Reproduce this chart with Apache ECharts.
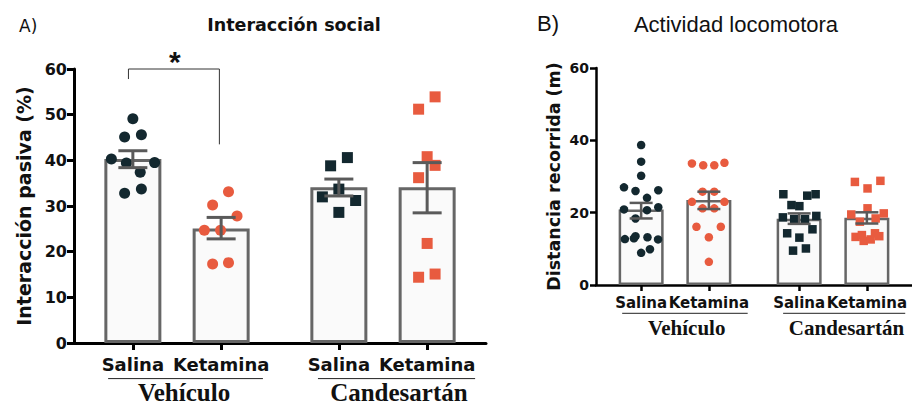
<!DOCTYPE html>
<html><head><meta charset="utf-8">
<script src="https://cdn.jsdelivr.net/npm/echarts@6/dist/echarts.min.js"></script>
<style>html,body{margin:0;padding:0;background:#fff}#c{width:912px;height:408px}</style>
</head><body><div id="c"></div>
<script>
// ---- categories ----
const treatments = ['Salina', 'Ketamina', 'Salina', 'Ketamina'];
const groups = ['Vehículo', 'Candesartán'];
const barPos = [2, 5, 9, 12];           // x slot of each bar (Veh-Sal, Veh-Ket, Cand-Sal, Cand-Ket)
const ticksA = [0, 10, 20, 30, 40, 50, 60];
const ticksB = [0, 20, 40, 60];

// ---- Panel A: Interacción social ----
const socialMean = [40.3, 25.1, 34.1, 34.1];
const socialLow  = [38.4, 22.8, 32.2, 28.5];
const socialHigh = [42.1, 27.5, 35.9, 39.5];
const socialVehSal = [49.1, 45.1, 45.6, 40.3, 39.4, 39.5, 37.4, 32.8, 33.7];
const socialVehSalJit = [0, -0.28, 0.29, -0.73, -0.22, 0.74, 0.25, -0.28, 0.29];
const socialVehKet = [33.1, 30.2, 27.8, 24.7, 24.7, 17.3, 17.6];
const socialVehKetJit = [0.25, -0.29, 0.54, -0.57, -0.02, -0.29, 0.25];
const socialCanSal = [40.6, 38.8, 33.7, 32.0, 31.2, 28.6];
const socialCanSalJit = [0.29, -0.28, 0, -0.56, 0.57, 0];
const socialCanKet = [53.9, 51.2, 40.8, 38.9, 36.2, 21.8, 14.4, 15.1];
const socialCanKetJit = [0.27, -0.29, 0, 0.27, -0.29, 0, -0.29, 0.27];

// ---- Panel B: Actividad locomotora ----
const locoMean = [20.9, 23.5, 18.3, 18.6];
const locoLow  = [18.4, 21.0, 16.9, 17.0];
const locoHigh = [22.7, 25.8, 19.8, 20.1];
const locoVehSal = [38.7, 34.1, 30.2, 27.0, 26.0, 24.1, 26.2, 20.9, 20.7, 21.5, 18.4, 12.7, 12.9, 13.5, 13.2, 12.6, 8.9, 9.9];
const locoVehSalJit = [0, 0, 0, -0.76, -0.25, 0.26, 0.76, -0.76, 0.26, 0.76, -0.25, -0.72, -0.32, -0.25, 0.28, 0.75, 0, 0.39];
const locoVehKet = [33.6, 33.1, 33.1, 33.8, 25.8, 25.8, 23.0, 21.2, 21.2, 23.0, 16.1, 16.1, 13.2, 6.4];
const locoVehKetJit = [-0.75, -0.25, 0.24, 0.69, -0.28, 0.24, -0.75, -0.28, 0.24, 0.69, -0.55, 0.53, 0, 0];
const locoCanSal = [25.1, 24.7, 25.1, 22.1, 21.8, 18.7, 18.2, 18.2, 19.1, 14.3, 15.4, 13.1, 9.5, 10.1];
const locoCanSalJit = [-0.70, 0.36, 0.73, -0.34, 0.01, -0.72, -0.22, 0.26, 0.76, -0.53, 0.59, 0.01, -0.27, 0.30];
const locoCanKet = [28.5, 28.8, 26.7, 21.2, 19.5, 19.8, 17.5, 18.4, 13.3, 13.8, 12.2, 12.6, 14.3, 13.5];
const locoCanKetJit = [-0.53, 0.60, 0.03, 0.03, -0.69, 0.75, -0.31, 0.39, -0.50, -0.22, -0.14, 0.17, 0.36, 0.55];

// ---- styling ----
const DARK = '#13282f', ORANGE = '#e85b3f', GREY = '#666666', ERR = '#5a5a5a';
const SANS = '"DejaVu Sans", "Liberation Sans", sans-serif';
const ARIAL = '"Liberation Sans", Arial, sans-serif';
const SERIF = '"Liberation Serif", "Times New Roman", serif';

function pts(k, vals, jit) { return vals.map((v, i) => [barPos[k] + jit[i], v]); }
function barData(means) { return means.map((m, i) => [barPos[i], m]); }
function errData(lo, hi) { return lo.map((l, i) => [barPos[i], l, hi[i]]); }

function errRender(half, lw) {
  return function (params, api) {
    const x = api.value(0);
    const a = api.coord([x, api.value(1)]), b = api.coord([x, api.value(2)]);
    const st = { stroke: ERR, lineWidth: lw };
    return { type: 'group', children: [
      { type: 'line', shape: { x1: a[0], y1: a[1], x2: b[0], y2: b[1] }, style: st },
      { type: 'line', shape: { x1: a[0] - half, y1: a[1], x2: a[0] + half, y2: a[1] }, style: st },
      { type: 'line', shape: { x1: b[0] - half, y1: b[1], x2: b[0] + half, y2: b[1] }, style: st }
    ]};
  };
}

function groupRender(lineDy, textDy, fontSize) {
  return function (params, api) {
    const p0 = api.coord([api.value(0), 0]), p1 = api.coord([api.value(1), 0]), pc = api.coord([api.value(2), 0]);
    return { type: 'group', children: [
      { type: 'line', shape: { x1: p0[0], y1: p0[1] + lineDy, x2: p1[0], y2: p1[1] + lineDy }, style: { stroke: '#222', lineWidth: 1 } },
      { type: 'text', style: { text: groups[params.dataIndex], x: pc[0], y: pc[1] + textDy, fill: '#111',
          font: 'bold ' + fontSize + 'px ' + SERIF, align: 'center', verticalAlign: 'middle' } }
    ]};
  };
}

function xAxisCfg(gi, fs, margin, tickLen, lw) {
  return {
    type: 'value', gridIndex: gi, min: 0, max: 14,
    axisLine: { show: true, lineStyle: { color: '#000', width: lw } },
    axisTick: { show: true, customValues: barPos, length: tickLen, lineStyle: { color: '#000', width: lw } },
    axisLabel: { show: true, customValues: barPos, margin: margin, color: '#111', fontWeight: 'bold', fontSize: fs,
      fontFamily: SANS,
      formatter: v => treatments[barPos.indexOf(Math.round(v))] || '' },
    splitLine: { show: false }
  };
}
function yAxisCfg(gi, name, interval, fs, nameFs, nameGap, tickLen, lw) {
  return {
    type: 'value', gridIndex: gi, min: 0, max: 60, interval: interval,
    name: name, nameLocation: 'middle', nameGap: nameGap,
    nameTextStyle: { fontWeight: 'bold', fontSize: nameFs, color: '#111', fontFamily: SANS },
    axisLine: { show: true, lineStyle: { color: '#000', width: lw } },
    axisTick: { show: true, length: tickLen, lineStyle: { color: '#000', width: lw } },
    axisLabel: { margin: 7, fontWeight: 'bold', fontSize: fs, color: '#111', fontFamily: SANS },
    splitLine: { show: false }
  };
}

const chart = echarts.init(document.getElementById('c'), null, { renderer: 'svg' });

function scatter(xi, data, sym, size, color) {
  return { type: 'scatter', xAxisIndex: xi, yAxisIndex: xi, data: data, symbol: sym, symbolSize: size,
    itemStyle: { color: color, opacity: 1 }, z: 3, silent: true };
}

chart.setOption({
  animation: false,
  backgroundColor: '#fff',
  grid: [
    { left: 74, top: 69, width: 412, height: 274 },
    { left: 596, top: 68, width: 325, height: 217 }
  ],
  xAxis: [xAxisCfg(0, 18, 12, 7, 3), xAxisCfg(1, 15, 10, 6, 2.5)],
  yAxis: [
    yAxisCfg(0, 'Interacción pasiva (%)', 10, 16, 19, 41, 7, 3),
    yAxisCfg(1, 'Distancia recorrida (m)', 20, 14, 17.5, 33, 6, 2.5)
  ],
  graphic: [
    { type: 'text', left: 19, top: 17, style: { text: 'A)', font: '17px ' + SANS, fill: '#111' } },
    { type: 'text', x: 294, y: 25, style: { text: 'Interacción social', font: 'bold 17.5px ' + SANS, fill: '#111', align: 'center', verticalAlign: 'middle' } },
    { type: 'text', left: 537, top: 12, style: { text: 'B)', font: '22px ' + ARIAL, fill: '#111' } },
    { type: 'text', x: 736, y: 24, style: { text: 'Actividad locomotora', font: '22px ' + ARIAL, fill: '#111', align: 'center', verticalAlign: 'middle' } }
  ],
  series: [
    // Panel A
    { type: 'bar', xAxisIndex: 0, yAxisIndex: 0, data: barData(socialMean), barWidth: 57,
      itemStyle: { color: '#fafafa', borderColor: GREY, borderWidth: 3 }, z: 2, silent: true },
    scatter(0, pts(0, socialVehSal, socialVehSalJit), 'circle', 11, DARK),
    scatter(0, pts(1, socialVehKet, socialVehKetJit), 'circle', 11, ORANGE),
    scatter(0, pts(2, socialCanSal, socialCanSalJit), 'rect', 11, DARK),
    scatter(0, pts(3, socialCanKet, socialCanKetJit), 'rect', 11, ORANGE),
    { type: 'custom', xAxisIndex: 0, yAxisIndex: 0, data: errData(socialLow, socialHigh), encode: { x: 0, y: [1, 2] },
      renderItem: errRender(14.5, 3), z: 4, silent: true },
    { type: 'custom', xAxisIndex: 0, yAxisIndex: 0, clip: false, silent: true, z: 4,
      data: [[1.85, 57.8, 4.94, 43.5, 60]],
      renderItem: function (params, api) {
        const l = api.coord([api.value(0), api.value(1)]), tl = api.coord([api.value(0), api.value(4)]);
        const tr = api.coord([api.value(2), api.value(4)]), r = api.coord([api.value(2), api.value(3)]);
        return { type: 'group', children: [
          { type: 'polyline', shape: { points: [l, tl, tr, r] }, style: { stroke: '#333', lineWidth: 1, fill: null } },
          { type: 'text', style: { text: '*', x: (tl[0] + tr[0]) / 2 + 1, y: tl[1] - 8, fill: '#111',
              font: 'bold 30px ' + ARIAL, align: 'center', verticalAlign: 'middle' } }
        ]};
      } },
    { type: 'custom', xAxisIndex: 0, yAxisIndex: 0, clip: false, silent: true,
      data: [[1.16, 6.42, 3.74], [8.29, 13.63, 11.04]], encode: { x: [0, 1, 2] },
      renderItem: groupRender(35.6, 49.5, 25) },

    // Panel B
    { type: 'bar', xAxisIndex: 1, yAxisIndex: 1, data: barData(locoMean), barWidth: 45,
      itemStyle: { color: '#fafafa', borderColor: GREY, borderWidth: 2.5 }, z: 2, silent: true },
    scatter(1, pts(0, locoVehSal, locoVehSalJit), 'circle', 8.5, DARK),
    scatter(1, pts(1, locoVehKet, locoVehKetJit), 'circle', 8.5, ORANGE),
    scatter(1, pts(2, locoCanSal, locoCanSalJit), 'rect', 8.5, DARK),
    scatter(1, pts(3, locoCanKet, locoCanKetJit), 'rect', 8.5, ORANGE),
    { type: 'custom', xAxisIndex: 1, yAxisIndex: 1, data: errData(locoLow, locoHigh), encode: { x: 0, y: [1, 2] },
      renderItem: errRender(11.5, 2.5), z: 4, silent: true },
    { type: 'custom', xAxisIndex: 1, yAxisIndex: 1, clip: false, silent: true,
      data: [[1.16, 6.72, 4.02], [8.29, 13.7, 11.1]], encode: { x: [0, 1, 2] },
      renderItem: groupRender(28.3, 43, 21) }
  ]
});
</script>
</body></html>
